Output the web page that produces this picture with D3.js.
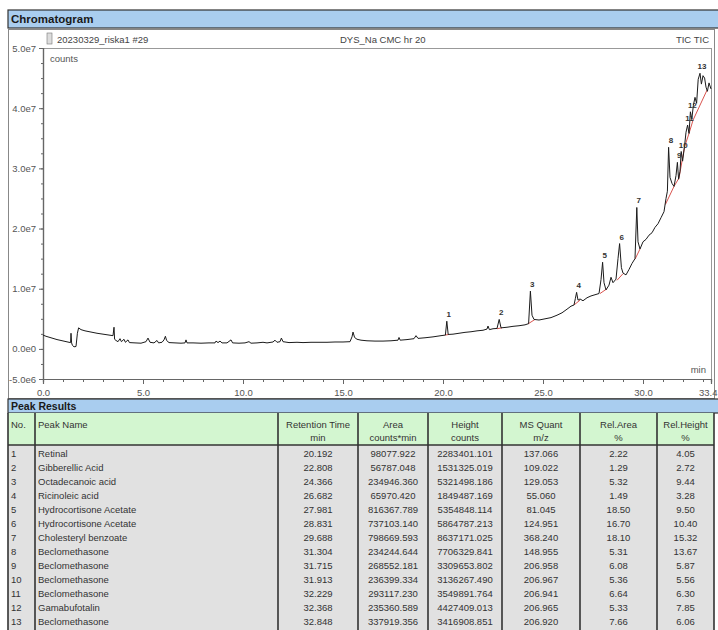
<!doctype html>
<html>
<head>
<meta charset="utf-8">
<title>Chromatogram</title>
<style>
  body { margin: 0; background: #fff; }
  text { font-family: "Liberation Sans", Arial, sans-serif; }
</style>
<script src="https://cdnjs.cloudflare.com/ajax/libs/d3/7.8.5/d3.min.js"></script>
</head>
<body>
<div id="chart"></div>
<script>
// ---- data ----
// TIC trace: retention time (min) and counts (in millions)
var traceTime = [0.00,0.15,0.30,0.50,0.70,0.90,1.10,1.30,1.38,1.40,1.43,1.47,1.55,1.65,1.72,1.78,1.90,2.10,2.40,2.70,
  3.00,3.30,3.50,3.55,3.58,3.65,3.75,3.85,3.92,4.05,4.12,4.25,4.32,4.60,4.90,5.15,5.25,5.35,5.55,5.70,
  5.78,5.95,6.05,6.12,6.18,6.30,6.60,6.90,7.10,7.15,7.20,7.50,7.90,8.30,8.60,8.65,8.75,8.85,8.95,9.20,
  9.40,9.48,9.80,10.10,10.30,10.40,10.70,11.00,11.20,11.50,11.60,11.70,11.85,11.92,12.00,12.30,12.70,13.00,13.40,13.80,
  14.20,14.60,15.00,15.35,15.45,15.50,15.58,15.70,15.90,16.20,16.60,17.00,17.40,17.75,17.80,17.86,18.20,18.55,18.65,18.75,
  19.10,19.50,19.90,20.12,20.19,20.26,20.50,20.80,21.10,21.40,21.70,22.00,22.20,22.25,22.32,22.50,22.70,22.81,22.90,23.20,
  23.50,23.80,24.10,24.28,24.37,24.45,24.55,24.80,25.10,25.40,25.70,25.95,26.20,26.40,26.55,26.62,26.68,26.75,26.85,27.00,
  27.20,27.40,27.60,27.80,27.90,27.98,28.05,28.15,28.30,28.40,28.50,28.65,28.75,28.83,28.92,29.00,29.15,29.30,29.45,29.60,
  29.69,29.75,29.85,30.00,30.15,30.30,30.45,30.60,30.75,30.90,31.05,31.15,31.22,31.28,31.35,31.45,31.55,31.65,31.72,31.78,
  31.85,31.91,31.98,32.08,32.15,32.23,32.30,32.37,32.44,32.52,32.60,32.68,32.76,32.85,32.92,33.00,33.08,33.15,33.22,33.30,33.40];
var traceCounts = [2.3,2.1,1.95,1.75,1.55,1.4,1.25,1.1,1.05,2.6,1.0,0.6,0.35,0.4,2.6,3.5,3.2,3.0,2.8,2.6,
  2.45,2.3,2.2,3.6,1.6,1.4,1.2,1.7,1.2,1.6,1.1,1.5,1.05,1.0,0.95,1.2,1.8,1.1,1.0,1.4,
  1.0,1.1,1.5,2.1,1.4,1.05,1.0,0.95,1.0,1.5,1.0,1.0,0.95,1.0,1.0,1.3,1.05,1.3,1.0,1.0,
  1.5,1.0,0.95,1.0,1.2,0.95,1.0,1.1,1.0,1.15,1.45,1.1,1.2,1.8,1.2,1.05,1.1,1.05,1.1,1.1,
  1.1,1.15,1.15,1.2,2.0,2.8,1.9,1.6,1.45,1.35,1.3,1.3,1.35,1.45,1.9,1.45,1.55,1.7,2.2,1.75,
  1.85,2.0,2.2,2.3,4.6,2.4,2.45,2.6,2.75,2.85,3.0,3.1,3.3,3.8,3.2,3.35,3.4,4.9,3.5,3.6,
  3.75,3.85,4.0,4.2,9.6,5.6,4.9,4.8,5.0,5.2,5.6,6.0,6.6,7.1,7.3,8.4,9.4,8.1,8.3,8.0,
  8.5,8.8,9.0,9.2,11.5,14.4,11.0,9.8,10.6,11.9,11.0,11.6,15.0,17.5,13.5,12.6,12.3,13.2,14.2,15.0,
  23.5,17.8,16.6,17.8,18.2,18.9,19.3,20.2,20.8,21.8,22.8,25.0,26.2,33.5,28.5,27.5,27.0,28.8,31.0,28.2,
  29.5,32.8,31.2,33.8,36.0,37.2,35.8,39.4,38.2,40.5,41.8,40.8,44.8,45.8,44.0,45.4,45.0,43.5,42.8,44.2,43.2];

// integration baselines (red), one segment per peak: start t, start counts, end t, end counts (millions)
var baseStartT = [20.10,22.70,24.25,26.55,27.85,28.70,29.60,31.12,31.55,31.80,32.08,32.30,32.50];
var baseStartV = [2.3,3.35,4.15,7.3,9.2,11.4,14.9,24.0,27.0,28.4,33.6,35.8,38.0];
var baseEndT   = [20.30,22.95,24.60,26.85,28.20,29.00,29.85,31.55,31.80,32.08,32.30,32.50,33.20];
var baseEndV   = [2.4,3.5,4.9,8.1,10.0,12.5,16.6,27.0,28.4,33.6,35.8,38.0,43.0];

// peak table
var peakNo     = ["1","2","3","4","5","6","7","8","9","10","11","12","13"];
var peakNames  = ["Retinal","Gibberellic Acid","Octadecanoic acid","Ricinoleic acid","Hydrocortisone Acetate",
  "Hydrocortisone Acetate","Cholesteryl benzoate","Beclomethasone","Beclomethasone","Beclomethasone",
  "Beclomethasone","Gamabufotalin","Beclomethasone"];
var retTimes   = ["20.192","22.808","24.366","26.682","27.981","28.831","29.688","31.304","31.715","31.913","32.229","32.368","32.848"];
var areas      = ["98077.922","56787.048","234946.360","65970.420","816367.789","737103.140","798669.593",
  "234244.644","268552.181","236399.334","293117.230","235360.589","337919.356"];
var heights    = ["2283401.101","1531325.019","5321498.186","1849487.169","5354848.114","5864787.213","8637171.025",
  "7706329.841","3309653.802","3136267.490","3549891.764","4427409.013","3416908.851"];
var msQuant    = ["137.066","109.022","129.053","55.060","81.045","124.951","368.240","148.955","206.958","206.967","206.941","206.965","206.920"];
var relArea    = ["2.22","1.29","5.32","1.49","18.50","16.70","18.10","5.31","6.08","5.36","6.64","5.33","7.66"];
var relHeight  = ["4.05","2.72","9.44","3.28","9.50","10.40","15.32","13.67","5.87","5.56","6.30","7.85","6.06"];

var xTickValues = [0, 5, 10, 15, 20, 25, 30, 33.4];
var xTickLabels = ["0.0","5.0","10.0","15.0","20.0","25.0","30.0","33.4"];
var yTickValues = [-5e6, 0, 1e7, 2e7, 3e7, 4e7, 5e7];
var yTickLabels = ["-5.0e6","0.0e0","1.0e7","2.0e7","3.0e7","4.0e7","5.0e7"];

var columns = [
  { top: "No.", sub: "", x0: 8, x1: 35, align: "start", vals: peakNo },
  { top: "Peak Name", sub: "", x0: 35, x1: 278, align: "start", vals: peakNames },
  { top: "Retention Time", sub: "min", x0: 278, x1: 358, align: "middle", vals: retTimes },
  { top: "Area", sub: "counts*min", x0: 358, x1: 428, align: "middle", vals: areas },
  { top: "Height", sub: "counts", x0: 428, x1: 502, align: "middle", vals: heights },
  { top: "MS Quant", sub: "m/z", x0: 502, x1: 580, align: "middle", vals: msQuant },
  { top: "Rel.Area", sub: "%", x0: 580, x1: 657, align: "middle", vals: relArea },
  { top: "Rel.Height", sub: "%", x0: 657, x1: 714, align: "middle", vals: relHeight }
];

// ---- page ----
var W = 718, H = 630;
var svg = d3.select("#chart").append("svg")
  .attr("width", W)
  .attr("height", H);

var blue = "#a9cdef", green = "#d3f6d0", grey = "#e1e1e1";

// "Chromatogram" title bar
svg.append("rect")
  .attr("x", 8).attr("y", 10).attr("width", 712).attr("height", 18)
  .attr("fill", blue).attr("stroke", "#333").attr("stroke-width", 1.2);
svg.append("text")
  .attr("x", 11).attr("y", 23)
  .attr("font-size", "11.5px").attr("font-weight", "bold").attr("fill", "#1a1a1a")
  .text("Chromatogram");

// chart panel
svg.append("rect")
  .attr("x", 8.5).attr("y", 29.5).attr("width", 706).attr("height", 369)
  .attr("fill", "#fff").attr("stroke", "#888");

var margin = { left: 43, top: 48, right: 711, bottom: 379 };

var x = d3.scaleLinear().domain([0, 33.4]).range([margin.left, margin.right]);
var y = d3.scaleLinear().domain([-5e6, 5e7]).range([margin.bottom, margin.top]);

// plot frame
svg.append("rect")
  .attr("x", margin.left + 0.5).attr("y", margin.top + 0.5)
  .attr("width", margin.right - margin.left).attr("height", margin.bottom - margin.top)
  .attr("fill", "none").attr("stroke", "#999");

// header texts
svg.append("rect")
  .attr("x", 47).attr("y", 33).attr("width", 5).attr("height", 11)
  .attr("fill", "#ddd").attr("stroke", "#777").attr("stroke-width", 0.6);
svg.append("text").attr("x", 57).attr("y", 43)
  .attr("font-size", "9.5px").attr("fill", "#444").text("20230329_riska1 #29");
svg.append("text").attr("x", 340).attr("y", 43)
  .attr("font-size", "9.5px").attr("fill", "#444").text("DYS_Na CMC hr 20");
svg.append("text").attr("x", 709).attr("y", 43).attr("text-anchor", "end")
  .attr("font-size", "9.5px").attr("fill", "#444").text("TIC TIC");
svg.append("text").attr("x", 50).attr("y", 62)
  .attr("font-size", "9.5px").attr("fill", "#555").text("counts");
svg.append("text").attr("x", 706).attr("y", 373).attr("text-anchor", "end")
  .attr("font-size", "9.5px").attr("fill", "#555").text("min");

// axes
svg.append("g")
  .attr("transform", "translate(" + margin.left + ",0)")
  .call(d3.axisLeft(y).tickValues(yTickValues).tickSize(4)
    .tickFormat(function(d, i) { return yTickLabels[i]; }));
svg.append("g")
  .attr("transform", "translate(" + margin.left + ",0)")
  .call(d3.axisLeft(y).tickValues(d3.range(-5e6, 5e7, 2.5e6)).tickSize(2).tickFormat(""));

var xAxis = svg.append("g")
  .attr("transform", "translate(0," + margin.bottom + ")")
  .call(d3.axisBottom(x).tickValues(xTickValues).tickSize(5)
    .tickFormat(function(d, i) { return xTickLabels[i]; }));
svg.append("g")
  .attr("transform", "translate(0," + margin.bottom + ")")
  .call(d3.axisBottom(x).tickValues(d3.range(0, 34, 1)).tickSize(3).tickFormat(""));

svg.selectAll(".domain").attr("stroke", "#666").attr("stroke-width", 1.2);
svg.selectAll(".tick line").attr("stroke", "#666");
svg.selectAll(".tick text")
  .attr("font-family", "Liberation Sans, Arial, sans-serif")
  .attr("font-size", "9.5px").attr("fill", "#555");
xAxis.selectAll(".tick text").attr("dy", "0.9em");
// last label sits at the right edge: keep it inside the page
xAxis.selectAll(".tick text")
  .filter(function(d) { return d === 33.4; })
  .attr("text-anchor", "end").attr("x", 6);

// trace
var trace = traceTime.map(function(t, i) { return { t: t, v: traceCounts[i] * 1e6 }; });

var line = d3.line()
  .x(function(d) { return x(d.t); })
  .y(function(d) { return y(d.v); });

// red integration baselines
var baselines = baseStartT.map(function(t, i) {
  return [{ t: t, v: baseStartV[i] * 1e6 }, { t: baseEndT[i], v: baseEndV[i] * 1e6 }];
});
svg.append("g").selectAll("path")
  .data(baselines).enter().append("path")
  .attr("d", line)
  .attr("fill", "none").attr("stroke", "#d9544f").attr("stroke-width", 1);

svg.append("path")
  .attr("d", line(trace))
  .attr("fill", "none").attr("stroke", "#1b1b1b").attr("stroke-width", 1)
  .attr("stroke-linejoin", "round");

// peak number labels above each apex
var peaks = retTimes.map(function(rt, i) {
  var near = trace.filter(function(d) { return Math.abs(d.t - (+rt)) <= 0.06; });
  return { no: peakNo[i], t: +rt, v: d3.max(near, function(d) { return d.v; }) };
});
svg.append("g").selectAll("text")
  .data(peaks).enter().append("text")
  .attr("x", function(d) { return x(d.t) + 2; })
  .attr("y", function(d) { return y(d.v) - 4; })
  .attr("text-anchor", "middle")
  .attr("font-size", "8px").attr("font-weight", "bold").attr("fill", "#333")
  .text(function(d) { return d.no; });

// ---- Peak Results table ----
svg.append("rect")
  .attr("x", 8).attr("y", 399).attr("width", 712).attr("height", 14)
  .attr("fill", blue).attr("stroke", "#333").attr("stroke-width", 1.2);
svg.append("text")
  .attr("x", 11).attr("y", 410)
  .attr("font-size", "10.5px").attr("font-weight", "bold").attr("fill", "#1a1a1a")
  .text("Peak Results");

var headTop = 413, headBottom = 445, rowH = 14;

svg.append("rect")
  .attr("x", 8).attr("y", headTop).attr("width", 706).attr("height", headBottom - headTop)
  .attr("fill", green);
svg.append("rect")
  .attr("x", 8).attr("y", headBottom).attr("width", 706).attr("height", H - headBottom)
  .attr("fill", grey);

var cols = svg.append("g").selectAll("g")
  .data(columns).enter().append("g");

cols.append("text")
  .attr("x", function(d) { return d.align === "start" ? d.x0 + 3 : (d.x0 + d.x1) / 2; })
  .attr("y", 428)
  .attr("text-anchor", function(d) { return d.align; })
  .attr("font-size", "9.5px").attr("fill", "#333")
  .text(function(d) { return d.top; });
cols.append("text")
  .attr("x", function(d) { return (d.x0 + d.x1) / 2; })
  .attr("y", 441)
  .attr("text-anchor", "middle")
  .attr("font-size", "9.5px").attr("fill", "#333")
  .text(function(d) { return d.sub; });

cols.each(function(col) {
  d3.select(this).selectAll("text.cell")
    .data(col.vals).enter().append("text")
    .attr("class", "cell")
    .attr("x", col.align === "start" ? col.x0 + 3 : (col.x0 + col.x1) / 2)
    .attr("y", function(d, i) { return headBottom + 12 + i * rowH; })
    .attr("text-anchor", col.align)
    .attr("font-size", "9.5px").attr("fill", "#333")
    .text(function(d) { return d; });
});

// grid lines of the table
svg.append("line")
  .attr("x1", 8).attr("x2", 714).attr("y1", headBottom).attr("y2", headBottom)
  .attr("stroke", "#333").attr("stroke-width", 1.5);
svg.append("g").selectAll("line")
  .data([8, 35, 278, 358, 428, 502, 580, 657, 714]).enter().append("line")
  .attr("x1", function(d) { return d; }).attr("x2", function(d) { return d; })
  .attr("y1", headTop).attr("y2", H)
  .attr("stroke", "#333").attr("stroke-width", 1.6);
</script>
</body>
</html>
